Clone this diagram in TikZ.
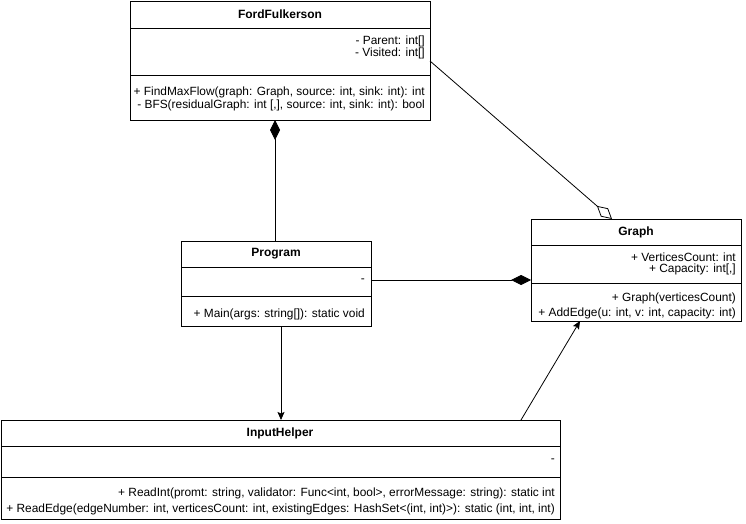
\documentclass[tikz,border=0pt]{standalone}
\usepackage{fontspec}
\setmainfont{Liberation Sans}
\usetikzlibrary{arrows.meta}
\begin{document}
\begin{tikzpicture}[x=1pt,y=-1pt,
  box/.style={draw,line width=0.8pt,fill=white},
  sepline/.style={line width=0.8pt},
  title/.style={font=\fontsize{12}{14}\selectfont\bfseries,inner sep=0pt},
  member/.style={font=\fontsize{11.9}{14}\selectfont,inner sep=0pt,anchor=east},
  link/.style={line width=0.8pt},
  comp/.style={link,{Diamond[length=20pt,width=10pt]}-},
  agg/.style={link,-{Diamond[open,fill=white,length=20pt,width=11pt]}},
  compend/.style={link,-{Diamond[length=20pt,width=10pt]}},
  dep/.style={link,-{Stealth[length=8pt,width=7pt,inset=1.5pt]}}]
\useasboundingbox (0,0) rectangle (746,524);
\fill[white] (0,0) rectangle (746,524);

% FordFulkerson
\draw[box] (130,1) rectangle (430,120);
\draw[sepline] (130,28) -- (430,28);
\draw[sepline] (130,75) -- (430,75);
\node[title] (fft) at (280,14) {FordFulkerson};
\node[member] (ffa1) at (425,41) {- Parent: int[]};
\node[member] (ffa2) at (425,53) {- Visited: int[]};
\node[member] (ffm1) at (425,92) {+ FindMaxFlow(graph: Graph, source: int, sink: int): int};
\node[member] (ffm2) at (425,105) {- BFS(residualGraph: int [,], source: int, sink: int): bool};

% Program
\draw[box] (181,241) rectangle (371,326);
\draw[sepline] (181,267) -- (371,267);
\draw[sepline] (181,296) -- (371,296);
\node[title] (prt) at (276,254) {Program};
\node[member] (pra1) at (365,281) {-};
\node[member] (prm1) at (365,314) {+ Main(args: string[]): static void};

% Graph
\draw[box] (531,219) rectangle (741,321);
\draw[sepline] (531,245) -- (741,245);
\draw[sepline] (531,283) -- (741,283);
\node[title] (grt) at (636,232) {Graph};
\node[member] (gra1) at (736,257) {+ VerticesCount: int};
\node[member] (gra2) at (736,269) {+ Capacity: int[,]};
\node[member] (grm1) at (736,298) {+ Graph(verticesCount)};
\node[member] (grm2) at (736,313) {+ AddEdge(u: int, v: int, capacity: int)};

% InputHelper
\draw[box] (1,420) rectangle (560,519);
\draw[sepline] (1,446) -- (560,446);
\draw[sepline] (1,477) -- (560,477);
\node[title] (iht) at (280,433) {InputHelper};
\node[member] (iha1) at (555,461) {-};
\node[member] (ihm1) at (555,493) {+ ReadInt(promt: string, validator: Func<int, bool>, errorMessage: string): static int};
\node[member] (ihm2) at (555,509) {+ ReadEdge(edgeNumber: int, verticesCount: int, existingEdges: HashSet<(int, int)>): static (int, int, int)};

% connector end points on the class borders
\coordinate (ffBottom) at (275,120);
\coordinate (prTop) at (275,241);
\coordinate (ffRight) at (430,61);
\coordinate (grTop) at (612,219);
\coordinate (prRight) at (371,280);
\coordinate (grLeft) at (531,280);
\coordinate (prBottom) at (281,326);
\coordinate (ihTop) at (281,420);
\coordinate (ihTopR) at (521,420);
\coordinate (grBottom) at (580,321);

\draw[comp] (ffBottom) -- (prTop);
\draw[agg] (ffRight) -- (grTop);
\draw[compend] (prRight) -- (grLeft);
\draw[dep] (prBottom) -- (ihTop);
\draw[dep] (ihTopR) -- (grBottom);
\end{tikzpicture}
\end{document}
